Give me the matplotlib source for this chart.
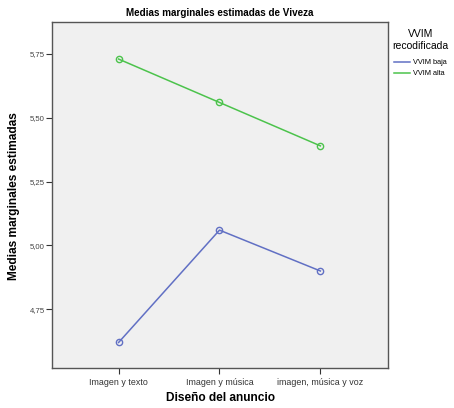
import numpy as np
import matplotlib.pyplot as plt
from matplotlib.lines import Line2D

plt.rcParams['font.family'] = ['Liberation Sans', 'DejaVu Sans']

categorias = ['Imagen y texto', 'Imagen y música', 'imagen, música y voz']
vvim_baja = [4.62, 5.06, 4.90]
vvim_alta = [5.73, 5.56, 5.39]
series_labels = ['VVIM baja', 'VVIM alta']
colores = ['#6170c4', '#4cc34c']
yticks = [4.75, 5.00, 5.25, 5.50, 5.75]

fig = plt.figure(figsize=(4.54, 4.08), dpi=100)
ax = fig.add_axes([0.1145, 0.098, 0.7401, 0.848])
ax.set_facecolor('#f0f0f0')

x = np.arange(len(categorias))
for vals, c in zip([vvim_baja, vvim_alta], colores):
    ax.plot(x, vals, color=c, lw=1.1, marker='o', ms=4.5,
            mfc='none', mec=c, mew=1.0)

ax.set_xlim(-0.66, 2.67)
ax.set_ylim(4.52, 5.875)
ax.set_xticks(x, labels=categorias, fontsize=6.4, color='#333333')
ax.set_yticks(yticks, labels=[f'{v:.2f}'.replace('.', ',') for v in yticks],
              fontsize=5.6, color='#444444')
ax.tick_params(length=4, width=0.8, color='#333333')
ax.tick_params(axis='y', pad=1)

for s in ax.spines.values():
    s.set_color('#555555')
    s.set_linewidth(1.0)

ax.set_title('Medias marginales estimadas de Viveza', fontsize=7.1,
             fontweight='bold', pad=4)
fig.text(0.485, 0.024, 'Diseño del anuncio', fontsize=8.6, fontweight='bold',
         ha='center', va='center')
fig.text(0.031, 0.52, 'Medias marginales estimadas', fontsize=8.6,
         fontweight='bold', rotation=90, ha='center', va='center')

handles = [Line2D([], [], color=c, lw=1.1) for c in colores]
leg = fig.legend(handles, series_labels, loc='upper left',
                 bbox_to_anchor=(0.862, 0.93),
                 title='VVIM\nrecodificada', fontsize=5.3, title_fontsize=7.5,
                 frameon=False, handlelength=2.2, handletextpad=0.35,
                 borderaxespad=0, labelspacing=0.5, borderpad=0.1)
leg._legend_box.align = 'center'
leg._legend_box.sep = 6
leg.get_title().set_multialignment('center')

fig.savefig('out.png', dpi=100)
